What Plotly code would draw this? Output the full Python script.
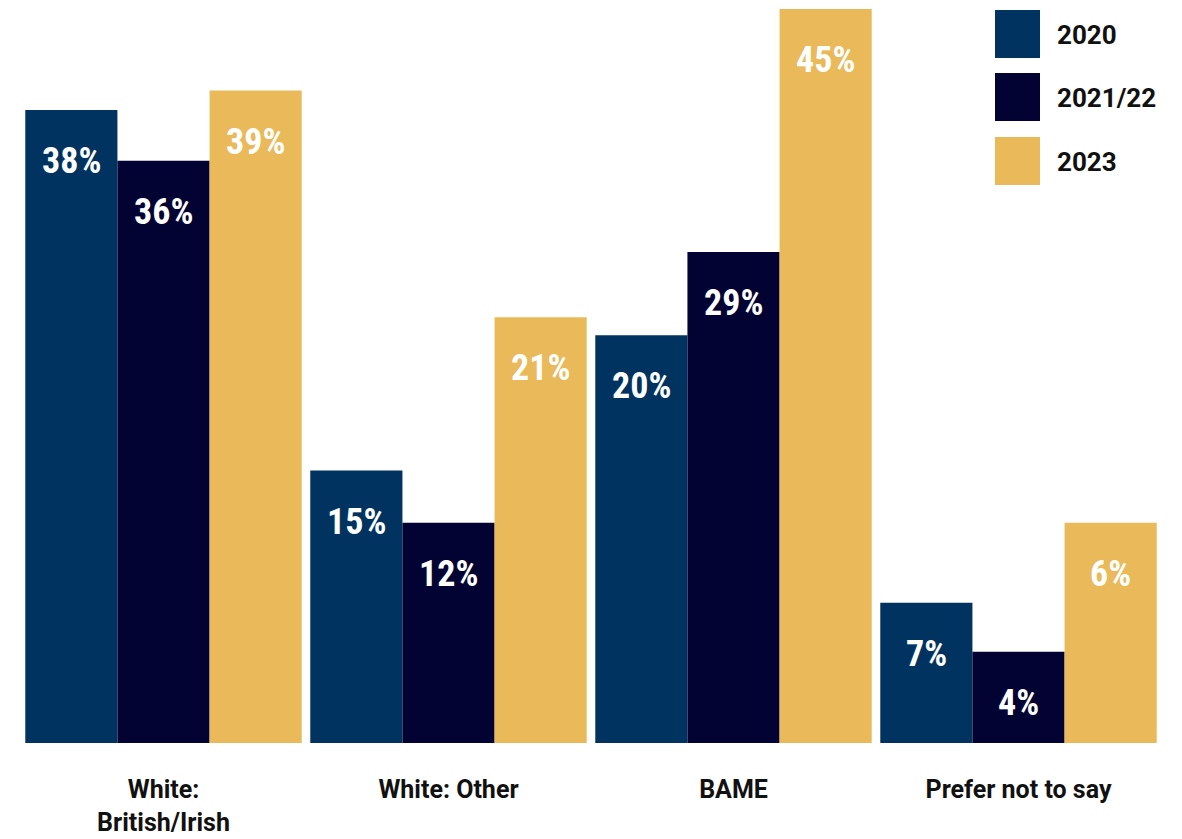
import plotly.graph_objects as go

categories = ["White:<br>British/Irish", "White: Other", "BAME", "Prefer not to say"]
series_names = ["2020", "2021/22", "2023"]
# bar heights as drawn in the graphic (percentage-scale units)
heights_2020 = [38.8, 16.7, 25.0, 8.6]
heights_2021 = [35.7, 13.5, 30.1, 5.6]
heights_2023 = [40.0, 26.1, 45.0, 13.5]
# printed value labels
labels_2020 = ["38%", "15%", "20%", "7%"]
labels_2021 = ["36%", "12%", "29%", "4%"]
labels_2023 = ["39%", "21%", "45%", "6%"]

colors = ["#00335F", "#020233", "#E9B95A"]
all_heights = [heights_2020, heights_2021, heights_2023]
all_labels = [labels_2020, labels_2021, labels_2023]

fig = go.Figure()
for name, h, c in zip(series_names, all_heights, colors):
    fig.add_trace(go.Bar(x=categories, y=h, name=name, marker=dict(color=c, line=dict(width=0)),
                         showlegend=False, hoverinfo="skip"))

# value labels inside bars (offset within each group)
offsets = [-1, 0, 1]
n = len(series_names)
group_w = 0.97
bw = group_w / n
for si, (h, labs) in enumerate(zip(all_heights, all_labels)):
    for ci, (v, t) in enumerate(zip(h, labs)):
        fig.add_annotation(x=ci + offsets[si] * bw, y=v, xref="x", yref="y", text=t,
                           showarrow=False, yshift=-51, yanchor="middle",
                           font=dict(family="Roboto Condensed, Open Sans Condensed, sans-serif",
                                     size=36, color="white", weight=700))

# custom legend with large squares
leg_y = [34, 97, 161]
for name, c, yc in zip(series_names, colors, leg_y):
    fig.add_shape(type="rect", xref="paper", yref="paper",
                  x0=(995 - 21) / 1140, x1=(1040 - 21) / 1140,
                  y0=(743 - (yc + 24)) / 743, y1=(743 - (yc - 24)) / 743,
                  fillcolor=c, line=dict(width=0), layer="above")
    fig.add_annotation(xref="paper", yref="paper", x=(1055 - 21) / 1140, y=(743 - yc - 1) / 743,
                       text=name, showarrow=False, xanchor="left", yanchor="middle",
                       font=dict(family="Roboto, sans-serif", size=26, color="#111111", weight=700))

fig.update_layout(
    width=1182, height=839,
    margin=dict(l=21, r=21, t=0, b=96),
    barmode="group", bargap=0.03, bargroupgap=0,
    plot_bgcolor="white", paper_bgcolor="white",
    xaxis=dict(showgrid=False, zeroline=False, showline=False, ticks="", automargin=False,
               tickfont=dict(family="Roboto, sans-serif", size=25, color="#111111", weight=700),
               ticklabelstandoff=29, range=[-0.5, 3.5]),
    yaxis=dict(visible=False, range=[0, 45.55], automargin=False),
)

fig.write_html("out.html")
